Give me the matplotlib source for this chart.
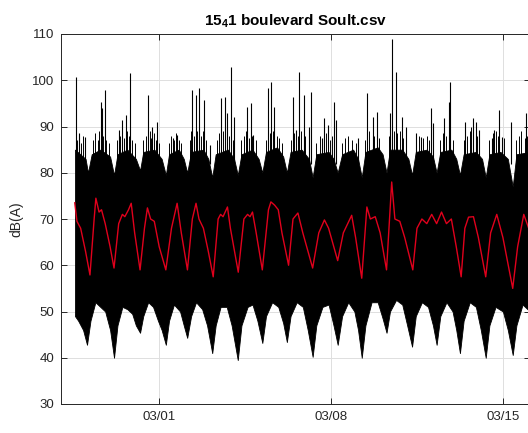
import numpy as np
import matplotlib
matplotlib.use("Agg")
import matplotlib.pyplot as plt
import matplotlib.dates as mdates

plt.rcParams['font.family'] = ['Liberation Sans', 'DejaVu Sans']
plt.rcParams['mathtext.fontset'] = 'custom'
plt.rcParams['mathtext.bf'] = 'Liberation Sans:bold'
plt.rcParams['mathtext.rm'] = 'Liberation Sans'

# ── Data (time = days since 2015-03-01 00:00) ──
# hourly mean level (red)
mean_t = [-3.44, -3.35, -3.2, -3.0, -2.82, -2.65, -2.58, -2.45, -2.35, -2.2, -2.0, -1.84,
          -1.65, -1.5, -1.4, -1.25, -1.14, -1.0, -0.78, -0.6, -0.48, -0.35, -0.2, 0.0,
          0.27, 0.5, 0.73, 0.9, 1.15, 1.35, 1.5, 1.62, 1.8, 2.0, 2.2, 2.4, 2.5, 2.6, 2.78,
          2.9, 3.22, 3.45, 3.6, 3.7, 3.8, 3.95, 4.2, 4.45, 4.55, 4.7, 4.85, 5.0, 5.27,
          5.45, 5.65, 5.85, 6.25, 6.5, 6.73, 6.9, 7.27, 7.5, 7.84, 8.0, 8.25, 8.46, 8.6,
          8.8, 9.0, 9.26, 9.47, 9.6, 9.8, 10.0, 10.33, 10.5, 10.7, 10.9, 11.1, 11.3, 11.5,
          11.7, 11.9, 12.1, 12.3, 12.45, 12.6, 12.8, 13.0, 13.3, 13.5, 13.75, 14.0, 14.4,
          14.6, 14.85, 15.05]
mean_db = [73.5, 69.5, 68, 63, 57.9, 70, 74.5, 71.5, 72, 69, 64, 59.4,
           69, 71, 70.5, 72, 73.4, 67, 59, 68, 72.4, 70, 69.5, 64,
           59, 68, 73.4, 67, 59, 70, 73.4, 70, 68, 63, 57.5, 70, 71, 70.5, 72.6,
           68, 58.5, 70, 71, 70.5, 71.5, 67, 59, 72, 73.7, 73, 72, 67, 60,
           70, 71.3, 67, 59.4, 67, 69.8, 68, 61, 67, 70.8, 66, 57.2, 72.6, 70,
           70.5, 67, 59, 78, 70, 69.5, 66, 59, 68, 70, 69, 71, 69, 71.5,
           69, 70, 64, 57.5, 68, 70.4, 70.5, 66, 57.5, 67, 71, 66, 55,
           64, 71, 68]

# envelope of the raw signal (black)
low_t = [-3.43, -3.3, -3.1, -2.94, -2.8, -2.6, -2.4, -2.2, -2.0, -1.84, -1.7, -1.5, -1.3,
         -1.1, -0.95, -0.78, -0.65, -0.45, -0.25, -0.05, 0.1, 0.27, 0.4, 0.6, 0.85, 1.0,
         1.14, 1.3, 1.5, 1.75, 1.95, 2.16, 2.3, 2.5, 2.75, 2.95, 3.2, 3.35, 3.6, 3.8, 4.0,
         4.2, 4.35, 4.6, 4.85, 5.05, 5.2, 5.35, 5.6, 5.85, 6.05, 6.25, 6.4, 6.65, 6.9, 7.1,
         7.27, 7.45, 7.7, 7.95, 8.1, 8.25, 8.4, 8.65, 8.9, 9.1, 9.26, 9.4, 9.65, 9.9, 10.1,
         10.3, 10.45, 10.7, 10.95, 11.15, 11.3, 11.45, 11.7, 11.95, 12.1, 12.25, 12.4,
         12.65, 12.9, 13.1, 13.3, 13.45, 13.7, 14.0, 14.2, 14.4, 14.55, 14.8, 15.1]
low_db = [49, 48, 46, 42.8, 48, 52, 51, 50, 46, 40, 47, 51, 50.5,
          49.5, 47, 45.4, 49, 52, 51, 48, 46, 42.8, 48, 51.5, 50, 47,
          44.3, 49, 52, 50.5, 47, 41, 47, 51, 51, 47, 39.5, 47, 51, 51.5, 48,
          43.2, 49, 52, 51, 47.5, 43.4, 49, 52, 51, 46, 40.2, 47, 51, 51.5, 47,
          42.8, 49, 52, 50, 46, 40, 47, 52, 52, 48.5, 45.4, 50, 52.5, 51.5, 47,
          42.4, 49, 52, 51, 47, 42.8, 49, 52, 50, 46, 41, 48,
          52, 51, 46, 40, 47, 51, 50, 46, 40.6, 47, 51.5, 50]
up_t = [-3.43, -3.0, -2.9, -2.75, -2.4, -2.0, -1.84, -1.7, -1.3, -0.95, -0.78, -0.65, -0.2,
        0.1, 0.27, 0.4, 0.8, 1.0, 1.14, 1.3, 1.8, 2.0, 2.16, 2.3, 2.8, 3.05, 3.2, 3.35, 3.8,
        4.05, 4.2, 4.35, 4.8, 5.05, 5.2, 5.35, 5.8, 6.1, 6.25, 6.4, 6.9, 7.1, 7.27, 7.45,
        7.9, 8.1, 8.25, 8.4, 8.9, 9.1, 9.26, 9.4, 9.9, 10.15, 10.3, 10.45, 10.9, 11.15,
        11.3, 11.45, 11.9, 12.1, 12.25, 12.4, 12.9, 13.15, 13.3, 13.45, 13.9, 14.2, 14.4,
        14.55, 15.1]
up_db = [85, 83, 80, 84, 85, 83.5, 79.5, 84, 85, 83, 80.5, 84.5, 85,
         83, 79.5, 84, 85, 83, 80, 84.5, 85, 83, 79, 84, 85, 83, 79.5, 84, 85,
         83, 80, 84.5, 85.5, 83.5, 80, 84.5, 85, 83, 79, 84, 84.5, 83, 80, 84,
         85, 83, 79, 84.5, 85.5, 84, 80, 85, 85, 83, 79.5, 84.5, 85, 83.5,
         80, 84.5, 85, 83, 79.5, 84, 84.5, 83, 79, 84, 84.5, 83, 77,
         84, 84.5]

# isolated peaks above the envelope
peak_t = [-3.40, -3.27, -3.02, -2.38, -2.33, -2.22, -1.63, -1.51, -1.36, -1.18, -0.45, -0.29,
          -0.09, 0.57, 0.72, 1.35, 1.50, 1.63, 1.84, 2.07, 2.52, 2.69, 2.78, 2.93, 3.06,
          3.59, 3.74, 3.84, 4.45, 4.57, 4.69, 5.43, 5.58, 5.71, 5.88, 6.12, 6.20, 6.64,
          6.73, 6.86, 7.10, 7.21, 8.08, 8.48, 8.69, 8.86, 9.42, 9.50, 9.63, 9.87, 10.07,
          10.48, 10.68, 11.06, 11.14, 11.59, 11.80, 11.84, 12.45, 12.78, 12.89, 13.02,
          13.54, 13.63, 13.84, 13.95, 14.33, 14.94]
peak_db = [100.8, 88.6, 87.8, 95.4, 94, 97.9, 89.2, 91.4, 92.5, 101.5, 96.8, 90,
           91, 87.5, 88.2, 97.9, 96.8, 98.3, 95.7, 86, 96.2, 96.4, 93, 102.9, 92,
           94.2, 95, 88.2, 98.3, 99.6, 94.2, 96.4, 89.2, 101.8, 96.8, 90, 97.5, 87.5,
           91.8, 90.3, 95.3, 91.4, 87.5, 97.2, 92, 93.1, 93, 109, 101.8, 92, 90,
           88.6, 87.8, 94, 90.7, 91.8, 95.3, 99.6, 91, 91.8, 91, 89.2,
           87.5, 89.2, 93.6, 87.8, 91, 92.9]

# smaller daytime peaks that fringe the top of the band
minor_t = [-3.35, -3.2, -3.1, -2.7, -2.6, -2.5, -2.45, -2.28, -2.15, -2.05, -1.72, -1.58,
           -1.45, -1.3, -1.25, -1.1, -1.0, -0.65, -0.55, -0.38, -0.33, -0.2, -0.15, 0.0,
           0.4, 0.48, 0.62, 0.68, 0.8, 0.9, 1.25, 1.3, 1.42, 1.55, 1.7, 1.78, 1.92, 2.35,
           2.45, 2.6, 2.85, 3.0, 3.35, 3.45, 3.52, 3.65, 3.8, 3.95, 4.35, 4.5, 4.62, 4.78,
           4.9, 5.0, 5.35, 5.5, 5.65, 5.78, 5.95, 6.4, 6.55, 6.8, 6.95, 7.05, 7.45, 7.55,
           7.7, 7.85, 8.0, 8.4, 8.55, 8.75, 8.95, 9.38, 9.55, 9.7, 9.8, 9.95, 10.45, 10.6,
           10.75, 10.9, 11.0, 11.45, 11.55, 11.7, 11.95, 12.4, 12.55, 12.65, 12.7, 12.95,
           13.45, 13.6, 13.7, 13.8, 14.05, 14.55, 14.65, 14.75, 14.9, 15.0]
minor_db = [87, 86.5, 88, 87, 88.5, 87, 89, 88, 87, 86.5, 87, 88,
            87.5, 89, 88, 87, 86.5, 87, 88, 89, 87.5, 88.5, 87, 86.5,
            86.5, 88, 87, 88.5, 87, 86.5, 87, 89, 88, 89, 88, 89, 87, 87,
            88.5, 89, 88, 87, 87, 88, 89, 87.5, 88, 87, 87, 88.5, 89, 88,
            87.5, 86.5, 87, 88.5, 88, 89, 88, 86.5, 88, 88.5, 87, 88, 86.5, 87.5,
            88, 87, 86.5, 87, 89, 88, 87.5, 88, 89, 88.5, 89, 87.5, 87, 88,
            87.5, 88, 87, 87, 88.5, 88, 87, 87, 88, 89, 90, 88,
            87, 88.5, 89, 88, 87.5, 87, 88, 89, 87.5, 88]

Y_TICKS = list(range(30, 111, 10))
X_TICKS = ["2015-03-01", "2015-03-08", "2015-03-15"]
TITLE = r"15$_{\mathbf{4}}$1 boulevard Soult.csv"

BASE = np.datetime64("2015-03-01T00:00")


def to_dates(days):
    return BASE + (np.asarray(days) * 24 * 60).round().astype("timedelta64[m]")


# ── Figure ──
fig = plt.figure(figsize=(5.28, 4.33), dpi=100)
ax = fig.add_axes([61 / 528, 29 / 433, 468.5 / 528, 370 / 433])

# raw signal envelope: common time grid so both edges line up
grid_t = np.union1d(low_t, up_t)
low_g = np.interp(grid_t, low_t, low_db)
up_g = np.interp(grid_t, up_t, up_db)
ax.fill_between(to_dates(grid_t), low_g, up_g, color="black", lw=0.6, edgecolor="black", zorder=2)
ax.vlines(to_dates(minor_t), 82, minor_db, color="black", lw=0.7, zorder=2)
ax.vlines(to_dates(peak_t), 82, peak_db, color="black", lw=0.8, zorder=2)
ax.plot(to_dates(mean_t), mean_db, color="#e0001c", lw=1.0, zorder=3)

ax.set_ylim(30, 110)
ax.set_xlim(np.datetime64("2015-02-25T00:00"), np.datetime64("2015-03-16T02:00"))
ax.set_yticks(Y_TICKS)
ax.set_xticks([np.datetime64(d) for d in X_TICKS])
ax.xaxis.set_major_formatter(mdates.DateFormatter("%m/%d"))

ax.grid(True, color="#dedede", lw=0.7)
ax.set_axisbelow(True)
for s in ax.spines.values():
    s.set_color("#262626")
    s.set_linewidth(0.7)
ax.tick_params(direction="in", top=True, right=True, length=4, width=0.7,
               colors="#262626", labelsize=9.5, pad=5)

ax.set_ylabel("dB(A)", fontsize=10, color="#262626", labelpad=6)
ax.set_title(TITLE, fontsize=11, fontweight="bold", color="black", pad=6)

fig.savefig("out.png", dpi=100)
